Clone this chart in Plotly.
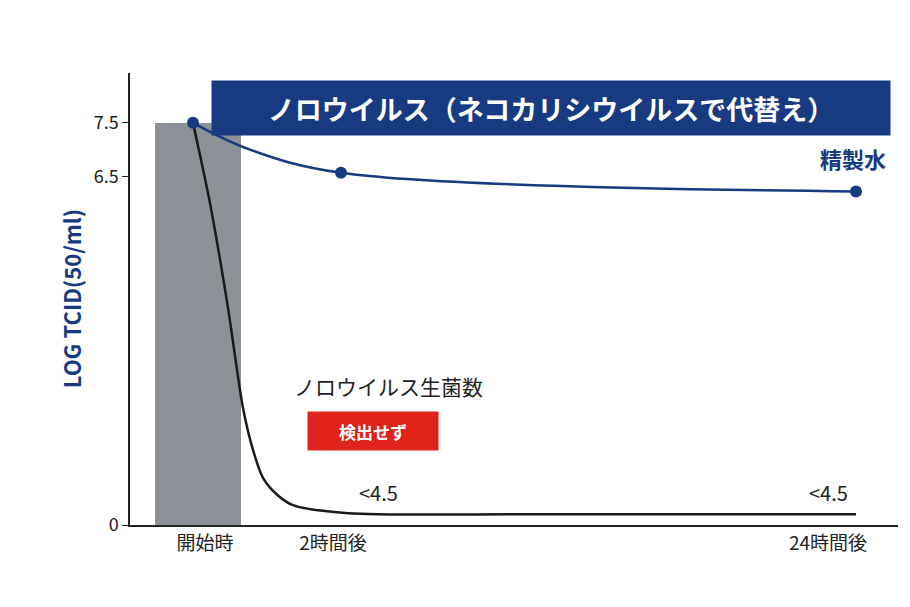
import plotly.graph_objects as go

# x positions are in plot units (0..768), y is LOG TCID
time_labels = ['開始時', '2時間後', '24時間後']
label_pos = [75, 203, 698]
water_x = [63, 120, 211, 726]
water_y = [7.5, 7.0, 6.57, 6.22]
virus_x = [63, 80, 98, 113, 123, 133, 148, 163, 218, 400, 726]
virus_y = [7.5, 6.0, 4.05, 2.18, 1.4, 0.88, 0.55, 0.37, 0.22, 0.2, 0.2]
bar_x = [68]
bar_y = [7.5]

font = 'Noto Sans CJK JP'
navy = '#173a80'

fig = go.Figure()
fig.add_trace(go.Bar(x=bar_x, y=bar_y, width=86, marker_color='#8b9197',
                     marker_line_width=0, showlegend=False))
fig.add_trace(go.Scatter(x=virus_x, y=virus_y, mode='lines',
                         line=dict(color='#1a1a1a', width=2.5, shape='spline', smoothing=0.8),
                         showlegend=False))
fig.add_trace(go.Scatter(x=water_x, y=water_y, mode='lines',
                         line=dict(color=navy, width=2.5, shape='spline'),
                         showlegend=False))
fig.add_trace(go.Scatter(x=[water_x[0], water_x[2], water_x[3]],
                         y=[water_y[0], water_y[2], water_y[3]], mode='markers',
                         marker=dict(size=12, color=navy), showlegend=False))

fig.update_layout(
    width=910, height=607, plot_bgcolor='white', paper_bgcolor='white',
    margin=dict(l=122, r=20, t=65, b=90, autoexpand=False),
    font=dict(family=font, size=18, color='#222'),
    xaxis=dict(range=[0, 768], tickvals=label_pos, ticktext=time_labels,
               showgrid=False, zeroline=False, showline=True, linecolor='#222',
               linewidth=1.5, ticks='', tickfont=dict(size=19)),
    yaxis=dict(range=[0, 8.43], tickvals=[0, 6.5, 7.5], ticktext=['0', '6.5', '7.5'],
               showgrid=False, zeroline=False, showline=True, linecolor='#222',
               linewidth=1.5, ticks='outside', ticklen=6, tickcolor='#222',
               tickfont=dict(size=18)),
    bargap=0,
)

fig.add_annotation(xref='paper', yref='paper', x=(543 - 122) / 768, y=(517 - 72) / 452,
                   text='<b>ノロウイルス（ネコカリシウイルスで代替え）</b>', showarrow=False,
                   font=dict(size=27, color='white'), bgcolor=navy,
                   width=676, height=52)
fig.add_annotation(xref='paper', yref='paper', x=-0.1, y=0.5, textangle=-90,
                   text='<b>LOG TCID(50/ml)</b>', showarrow=False,
                   font=dict(size=22, color=navy))
fig.add_annotation(x=723, y=6.85, text='<b>精製水</b>', showarrow=False,
                   font=dict(size=22, color=navy))
fig.add_annotation(x=258, y=2.6, text='ノロウイルス生菌数', showarrow=False,
                   font=dict(size=21, color='#222'))
fig.add_annotation(x=243, y=1.75, text='<b>検出せず</b>', showarrow=False,
                   font=dict(size=17, color='white'), bgcolor='#e0241b',
                   width=128, height=36)
fig.add_annotation(x=248, y=0.6, text='<4.5', showarrow=False, font=dict(size=20))
fig.add_annotation(x=698, y=0.6, text='<4.5', showarrow=False, font=dict(size=20))

fig.write_html('out.html')
